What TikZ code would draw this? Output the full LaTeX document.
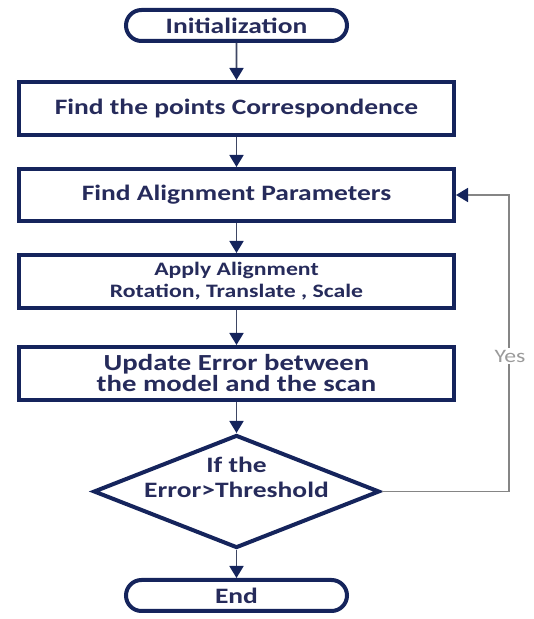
\documentclass[tikz,border=0pt]{standalone}
\usepackage{fontspec}
\setmainfont{Carlito}[FakeStretch=1.25]
\usetikzlibrary{shapes.misc,shapes.geometric,arrows.meta}
\definecolor{navy}{HTML}{15245C}
\definecolor{inknavy}{HTML}{262B5B}
\definecolor{linkgray}{HTML}{3E4664}
\definecolor{loopgray}{HTML}{858585}
\definecolor{labelgray}{HTML}{9A9A9A}
\tikzset{
  box/.style={draw=navy, line width=4pt, fill=white, rectangle,
    minimum width=435pt, minimum height=53pt, inner sep=0pt,
    align=center, text=inknavy, font=\fontsize{22}{26}\selectfont\bfseries},
  terminal/.style={draw=navy, line width=4pt, fill=white, rounded rectangle,
    minimum width=221pt, minimum height=31pt, inner sep=0pt,
    text=inknavy, font=\fontsize{22}{26}\selectfont\bfseries},
  decision/.style={draw=navy, line width=4pt, fill=white, diamond,
    minimum width=286pt, minimum height=113pt, inner sep=0pt},
  decisiontext/.style={align=center, text=inknavy, inner sep=0pt,
    font=\fontsize{22}{25}\selectfont\bfseries},
  flow/.style={draw=linkgray, line width=1.8pt,
    -{Triangle[width=14pt,length=12pt,color=navy]}},
  loopback/.style={draw=loopgray, line width=1.8pt,
    -{Triangle[width=14pt,length=12pt,color=navy]}},
  yeslabel/.style={fill=white, text=labelgray, inner sep=2pt,
    font=\fontsize{19}{21}\selectfont}
}
\begin{document}
\begin{tikzpicture}[x=1pt,y=1pt]
  \useasboundingbox (0,0) rectangle (534,619);
  \node[terminal] (init) at (236.5,593.5) {Initialization};
  \node[box] (corr) at (236.5,510.5) {Find the points Correspondence};
  \node[box, minimum height=52pt] (param) at (236.5,424) {Find Alignment Parameters};
  \node[box, font=\fontsize{19}{22}\selectfont\bfseries] (apply) at (236.5,337.5)
    {Apply Alignment\\Rotation, Translate , Scale};
  \node[box, font=\fontsize{23}{21}\selectfont\bfseries] (update) at (236.5,245.5)
    {Update Error between\\the model and the scan};
  \node[decision] (check) at (236.5,127.5) {};
  \node[decisiontext] (checktext) at ([yshift=14pt]check.center) {If the\\Error>Threshold};
  \node[terminal] (finish) at (236.5,23.5) {End};
  \coordinate (turn) at (509,127.5);

  \draw[flow] (init) -- (corr);
  \draw[flow] (corr) -- (param);
  \draw[flow] (param) -- (apply);
  \draw[flow] (apply) -- (update);
  \draw[flow] (update) -- (check);
  \draw[flow] (check) -- (finish);
  \draw[loopback] (check.east) -- (turn) |- (param.east);
  \node[yeslabel] (yes) at (510,263) {Yes};
\end{tikzpicture}
\end{document}
